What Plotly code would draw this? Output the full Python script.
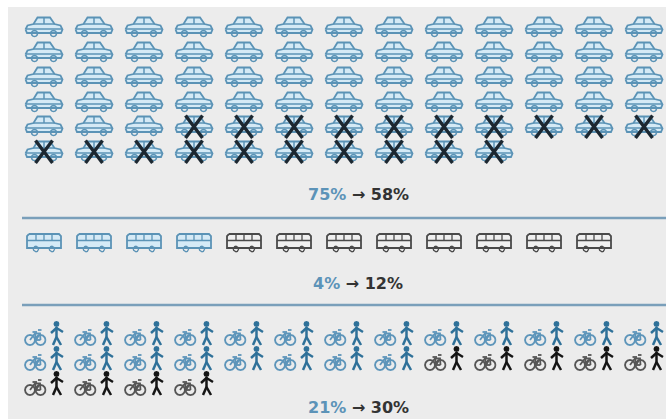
import math
import plotly.graph_objects as go

# ---- data ----
categories = ["car", "bus", "bike_walk"]
before_pct = [75, 4, 21]
after_pct = [58, 12, 30]
car_rows = [13, 13, 13, 13, 13, 10]
car_crossed_rows = [0, 0, 0, 0, 10, 10]
car_crossed_first_col = [0, 0, 0, 0, 3, 0]
bus_rows = [12]
bus_blue = 4
bike_rows = [13, 13, 4]
bike_blue = 21

# ---- layout constants ----
col_x0, col_dx = 44, 50
car_y = [27, 52, 77, 102, 126, 151]
bus_y = [242]
bike_y = [335, 360, 385]
BLUE = "#5b93b6"
DARK = "#4a4a4a"
FILL = "#d5eaf6"


def circle(cx, cy, r, n=12):
    return [(cx + r * math.cos(2 * math.pi * i / n), cy + r * math.sin(2 * math.pi * i / n)) for i in range(n + 1)]


CAR_BODY = [[(-18.5, 2.5), (-16.5, -1.5), (-10.5, -3), (-6.5, -9.5), (6, -9.5), (10.5, -3), (16.5, -1.5), (18.5, 2.5), (17, 6), (-17, 6), (-18.5, 2.5)]]
CAR_DETAIL = [[(-10.5, -3), (10.5, -3)], [(0, -9.5), (0, -3)], [(-18, 2), (18, 2)], circle(-9.5, 6.5, 3), circle(9.5, 6.5, 3)]
BUS_BODY = [[(-15, -8), (15, -8), (17, -6), (17, 6), (-17, 6), (-17, -6), (-15, -8)]]
BUS_DETAIL = [[(-17, -1.5), (17, -1.5)], [(-8, -8), (-8, -1.5)], [(0, -8), (0, -1.5)], [(8, -8), (8, -1.5)],
              circle(-8, 7, 2.7), circle(8, 7, 2.7)]
BIKE_DETAIL = [circle(-14, 5, 5), circle(-3.5, 5, 5), [(-14, 5), (-9, -1.5), (-4, -1.5), (-3.5, 5)],
               [(-9, -1.5), (-8, 5), (-4, -1.5)], [(-11.5, -3), (-7, -3)], [(-6, -5), (-2.5, -5)], [(-8, 5), (-3.5, 5)]]
PERSON_THICK = [[(12.5, -8), (12.5, 2)], [(12.5, 2), (9, 10)], [(12.5, 2), (17, 10)], [(12.5, -7), (7, -2)], [(12.5, -7), (19, -3)]]
PERSON_HEAD = circle(12.5, -11, 2.3, 8)
X_MARK = [[(-8.5, -10.5), (8.5, 12)], [(8.5, -10.5), (-8.5, 12)]]


def collect(template, centres):
    xs, ys = [], []
    for cx, cy in centres:
        for poly in template:
            for px, py in poly:
                xs.append(cx + px)
                ys.append(cy + py)
            xs.append(None)
            ys.append(None)
    return xs, ys


def grid(rows, ys):
    return [(col_x0 + c * col_dx, ys[r]) for r, n in enumerate(rows) for c in range(n)]


def add(fig, template, centres, color, width, fill=None):
    xs, ys = collect(template, centres)
    fig.add_trace(go.Scatter(x=xs, y=ys, mode="lines", hoverinfo="skip", showlegend=False,
                             line=dict(color=color, width=width, shape="linear"),
                             fill="toself" if fill else None, fillcolor=fill))


fig = go.Figure()

cars = grid(car_rows, car_y)
add(fig, CAR_BODY, cars, BLUE, 1.8, FILL)
add(fig, CAR_DETAIL, cars, BLUE, 1.5)
crossed = [(col_x0 + (f + c) * col_dx, car_y[r])
           for r, (n, f) in enumerate(zip(car_crossed_rows, car_crossed_first_col)) for c in range(n)]
add(fig, X_MARK, crossed, "#1c2730", 3.4)

buses = grid(bus_rows, bus_y)
add(fig, BUS_BODY, buses[:bus_blue], BLUE, 1.8, FILL)
add(fig, BUS_DETAIL, buses[:bus_blue], BLUE, 1.3)
add(fig, BUS_BODY, buses[bus_blue:], DARK, 1.8, "#f0f0f0")
add(fig, BUS_DETAIL, buses[bus_blue:], DARK, 1.3)

bikes = grid(bike_rows, bike_y)
for subset, bike_col, man_col in [(bikes[:bike_blue], "#5d95ba", "#2f7199"), (bikes[bike_blue:], "#555555", "#151515")]:
    add(fig, BIKE_DETAIL, subset, bike_col, 1.8)
    add(fig, PERSON_THICK, subset, man_col, 2.5)
    add(fig, [PERSON_HEAD], subset, man_col, 1.4, man_col)

rule_y = [218, 305]
rule_x0 = [22, 22]
for y, x0 in zip(rule_y, rule_x0):
    fig.add_shape(type="line", x0=x0, x1=666, y0=y, y1=y, line=dict(color="#7a9fba", width=2.6))

label_y = [194, 283, 407]
for b, a, y in zip(before_pct, after_pct, label_y):
    fig.add_annotation(x=358, y=y, showarrow=False,
                       text=f'<span style="color:#5c93b8">{b}%</span>\u00a0<span style="color:#333333">→\u00a0{a}%</span>',
                       font=dict(family="DejaVu Sans, Verdana, sans-serif", size=16, weight="bold"))

fig.update_layout(width=666, height=419, margin=dict(l=0, r=0, t=0, b=0),
                  paper_bgcolor="white", plot_bgcolor="#ececec", showlegend=False)
fig.update_xaxes(domain=[8 / 666, 1], range=[8, 666], visible=False, fixedrange=True)
fig.update_yaxes(domain=[0, 1 - 7 / 419], range=[419, 7], visible=False, fixedrange=True)
fig.write_html("out.html", config=dict(displayModeBar=False),
               post_script="document.documentElement.style.overflow='hidden';document.body.style.margin='0';")
